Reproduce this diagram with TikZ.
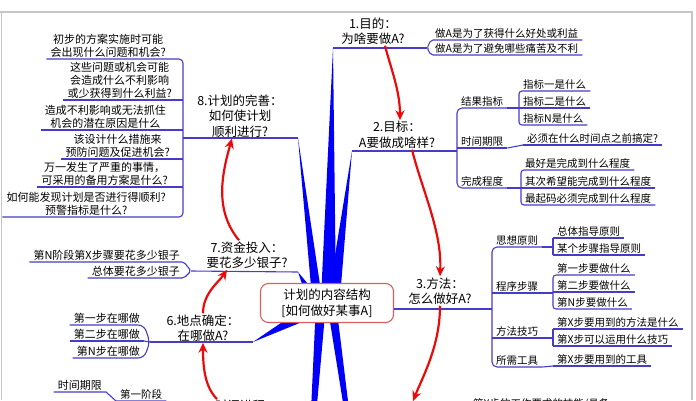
\documentclass[tikz,border=0pt]{standalone}
\usepackage{fontspec}
\setmainfont{Noto Sans CJK SC}
\usepackage{xcolor}
\usepackage{tikz}
\usetikzlibrary{arrows.meta}
\definecolor{lineblue}{RGB}{70,60,200}
\definecolor{wedgeblue}{RGB}{0,0,250}
\definecolor{arrowred}{RGB}{235,10,10}
\definecolor{boxred}{RGB}{215,95,95}

\begin{document}
\begin{tikzpicture}[x=1pt,y=-1pt,>={Stealth[length=10pt,width=9pt]},
  uline/.style={lineblue,line width=1.1pt},
  wedge/.style={fill=wedgeblue,draw=none},
  flow/.style={->,arrowred,line width=2.2pt},
  topic/.style={align=center,inner sep=1pt,font=\fontsize{12.5}{15.5}\selectfont},
  leaf/.style={anchor=south west,inner xsep=4pt,inner ysep=1.5pt,font=\fontsize{10.5}{12.5}\selectfont},
  lleaf/.style={leaf,anchor=south east,align=center,font=\fontsize{11}{13}\selectfont}]
  \useasboundingbox (0,0) rectangle (696,400);
  \clip (0,0) rectangle (696,400);
  \draw[gray!45,line width=1.5pt] (0,12) -- (692,12) -- (692,400);
  \draw[gray!45,line width=1.5pt] (1.5,12) -- (1.5,400);

  \coordinate (u1a) at (333,48);  \coordinate (u1b) at (427,48);
  \coordinate (u2a) at (352,151); \coordinate (u2b) at (457,151);
  \coordinate (u8a) at (183,138); \coordinate (u8b) at (298,138);
  \coordinate (u7a) at (191,271); \coordinate (u7b) at (298,272);
  \coordinate (u6a) at (150,342); \coordinate (u6b) at (253,342);
  \coordinate (n4) at (413,401);

  \fill[wedge] (u1a) -- (336,298) -- (321,298) -- cycle;
  \fill[wedge] (u8b) -- (322,298) -- (312,298) -- cycle;
  \fill[wedge] (u2a) -- (340,298) -- (328,298) -- cycle;
  \fill[wedge] (u7b) -- (318,296) -- (308,302) -- cycle;
  \fill[wedge] (u6b) -- (300,310) -- (302,322) -- cycle;
  \fill[wedge] (316,303) -- (326,303) -- (305,540) -- cycle;
  \fill[wedge] (327,303) -- (336,303) -- (365,540) -- cycle;

  \node[draw=boxred,fill=white,rounded corners=8pt,line width=1.1pt,minimum width=133pt,
        minimum height=39pt,align=center,font=\fontsize{12.5}{16}\selectfont]
        (ctr) at (327,303) {计划的内容结构\\{[}如何做好某事A{]}};

  \node[topic] (m1) at (373,31) {1.目的：\\为啥要做A?};
  \node[topic] (m2) at (397,135) {2.目标：\\A要做成啥样?};
  \node[topic] (m3) at (440,291) {3.方法：\\怎么做好A?};
  \node[topic] (m5) at (235,406) {5.时间进程};
  \node[topic] (m6) at (203,328) {6.地点确定：\\在哪做A?};
  \node[topic] (m7) at (247,255) {7.资金投入：\\要花多少银子?};
  \node[topic] (m8) at (240,116) {8.计划的完善：\\如何使计划\\顺利进行?};

  \node[leaf] (a1) at (431,40) {做A是为了获得什么好处或利益};
  \node[leaf] (a2) at (431,55) {做A是为了避免哪些痛苦及不利};
  \node[leaf] (b1) at (457,108) {结果指标};
  \node[leaf] (b2) at (457,148) {时间期限};
  \node[leaf] (b3) at (457,188) {完成程度};
  \node[leaf] (c1) at (519,91) {指标一是什么};
  \node[leaf] (c2) at (519,108) {指标二是什么};
  \node[leaf] (c3) at (519,125) {指标N是什么};
  \node[leaf] (d1) at (523,145) {必须在什么时间点之前搞定?};
  \node[leaf] (e1) at (521,170) {最好是完成到什么程度};
  \node[leaf] (e2) at (521,188) {其次希望能完成到什么程度};
  \node[leaf] (e3) at (521,205) {最起码必须完成到什么程度};
  \node[leaf] (f1) at (492,247) {思想原则};
  \node[leaf] (f2) at (492,293) {程序步骤};
  \node[leaf] (f3) at (492,338) {方法技巧};
  \node[leaf] (f4) at (492,367) {所需工具};
  \node[leaf] (g1) at (553,238) {总体指导原则};
  \node[leaf] (g2) at (553,255) {某个步骤指导原则};
  \node[leaf] (h1) at (553,275) {第一步要做什么};
  \node[leaf] (h2) at (553,292) {第二步要做什么};
  \node[leaf] (h3) at (553,309) {第N步要做什么};
  \node[leaf] (i1) at (553,329) {第X步要用到的方法是什么};
  \node[leaf] (i2) at (553,346) {第X步可以运用什么技巧};
  \node[leaf] (j1) at (553,366) {第X步要用到的工具};
  \node[leaf] (k1) at (469,411) {第X步的工作要求的技能/具备};

  \node[lleaf] (p1) at (170,59) {初步的方案实施时可能\\会出现什么问题和机会?};
  \node[lleaf] (p2) at (176,100) {这些问题或机会可能\\会造成什么不利影响\\或少获得到什么利益?};
  \node[lleaf] (p3) at (170,130) {造成不利影响或无法抓住\\机会的潜在原因是什么};
  \node[lleaf] (p4) at (174,159) {该设计什么措施来\\预防问题及促进机会?};
  \node[lleaf] (p5) at (172,187) {万一发生了严重的事情，\\可采用的备用方案是什么?};
  \node[lleaf] (p6) at (170,217) {如何能发现计划是否进行得顺利?\\预警指标是什么?};
  \node[lleaf] (q1) at (184,262) {第N阶段第X步骤要花多少银子};
  \node[lleaf] (q2) at (184,278) {总体要花多少银子};
  \node[lleaf] (r1) at (144,325) {第一步在哪做};
  \node[lleaf] (r2) at (144,341) {第二步在哪做};
  \node[lleaf] (r3) at (144,358) {第N步在哪做};
  \node[lleaf] (t1) at (106,392) {时间期限};
  \node[leaf] (s1) at (116,401) {第一阶段};

  \foreach \n in {b2,c2,d1,e2,f2,f3,g1,g2,h2,i1,i2,j1,k1,r2}
    \draw[uline] (\n.south west) -- (\n.south east);

  \draw[uline] (u1a) -- (u1b);
  \draw[uline,rounded corners=2pt] (a1.south east) -- (a1.south west) -- (u1b) -- (a2.south west) -- (a2.south east);
  \draw[uline] (u2a) -- (u2b);
  \draw[uline,rounded corners=5pt] (b1.south east) -- (b1.south west) -- (b3.south west) -- (b3.south east);
  \draw[uline] (b2.south east) -- (d1.south west);
  \draw[uline] (b1.south east) -- (c2.south west);
  \draw[uline,rounded corners=3pt] (c1.south east) -- (c1.south west) -- (c3.south west) -- (c3.south east);
  \draw[uline] (b3.south east) -- (e2.south west);
  \draw[uline,rounded corners=3pt] (e1.south east) -- (e1.south west) -- (e3.south west) -- (e3.south east);

  \draw[uline] ([yshift=-6pt]ctr.east) -- (f1.south west |- 0,309);
  \draw[uline,rounded corners=5pt] (f1.south east) -- (f1.south west) -- (f4.south west) -- (f4.south east);
  \draw[uline] (f1.south east) -- (f1.south east -| g1.south west);
  \draw[uline,rounded corners=3pt] (g1.south west) -- (g2.south west);
  \draw[uline] (f2.south east) -- (f2.south east -| h2.south west);
  \draw[uline,rounded corners=3pt] (h1.south east) -- (h1.south west) -- (h3.south west) -- (h3.south east);
  \draw[uline] (f3.south east) -- (f3.south east -| i1.south west);
  \draw[uline,rounded corners=3pt] (i1.south west) -- (i2.south west);
  \draw[uline] (f4.south east) -- (j1.south west);

  \draw[uline] (u8a) -- (u8b);
  \draw[uline,rounded corners=4pt] (p1.south west) -- (p1.south east -| u8a) -- (p6.south east -| u8a) -- (p6.south west);
  \foreach \n in {p2,p3,p4,p5}
    \draw[uline] (\n.south west) -- (\n.south east -| u8a);
  \draw[uline] (u7a) -- (u7b);
  \draw[uline,rounded corners=2pt] (q1.south west) -- (q1.south east) -- (u7a) -- (q2.south east) -- (q2.south west);
  \draw[uline] (u6a) -- (u6b);
  \draw[uline,rounded corners=6pt] (r1.south west) -- (r1.south east) -- (u6a) -- (r3.south east) -- (r3.south west);
  \draw[uline] (r2.south east) -- (u6a);
  \draw[uline] (t1.south west) -- (t1.south east) -- (s1.south west) -- (s1.south east);

  \draw[flow] ([xshift=12pt]m1.south) .. controls +(5,20) and +(0,-30) .. ([xshift=3pt]m2.north);
  \draw[flow] ([xshift=15pt]m2.south) .. controls +(10,40) and +(2,-45) .. (m3.north);
  \draw[flow] (m3.south) .. controls +(0,40) and +(10,-25) .. (n4);
  \draw[flow] ([xshift=-18pt]m5.north) .. controls +(-12,-12) and +(0,25) .. (m6.south);
  \draw[flow] (m6.north) .. controls +(0,-20) and +(-8,12) .. ([xshift=-20pt]m7.south);
  \draw[flow] ([xshift=-8pt]m7.north) .. controls +(-25,-30) and +(-10,35) .. ([xshift=-8pt]m8.south);
\end{tikzpicture}
\end{document}
